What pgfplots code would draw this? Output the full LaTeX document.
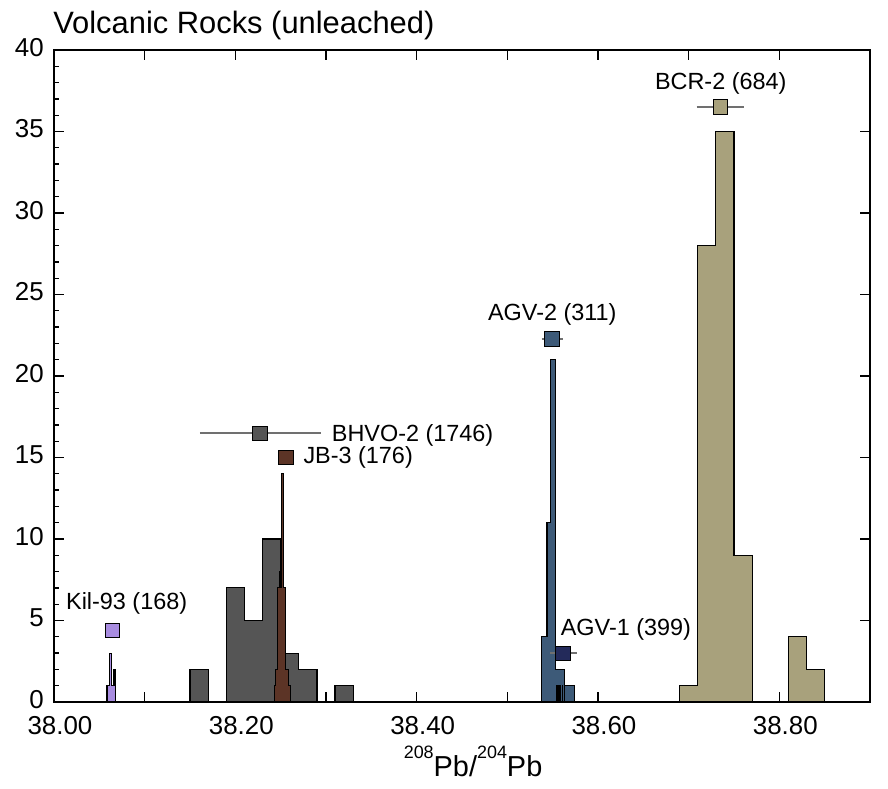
\documentclass[border=0pt]{standalone}
\usepackage{fontspec}
\setmainfont{Liberation Sans}
\usepackage{pgfplots}
\pgfplotsset{compat=1.18}

\definecolor{kil}{RGB}{168,140,224}
\definecolor{bhvo}{RGB}{85,85,85}
\definecolor{jb}{RGB}{92,52,38}
\definecolor{agvtwo}{RGB}{61,90,120}
\definecolor{agvone}{RGB}{35,42,90}
\definecolor{bcr}{RGB}{168,161,124}
\definecolor{errgray}{RGB}{112,112,112}

\newcommand{\lab}{\fontsize{23.5}{28}\selectfont}

\begin{document}
\begin{tikzpicture}
\begin{axis}[
  at={(0,0)}, anchor=south west,
  scale only axis, width=816bp, height=652bp,
  xmin=38, xmax=38.9, ymin=0, ymax=40,
  clip=false,
  axis line style={line width=1.6bp},
  tick style={line width=1.3bp, black},
  major tick length=10bp, minor tick length=5bp,
  tick align=inside,
  tick pos=left,
  xtick={38.0,38.1,38.2,38.3,38.4,38.5,38.6,38.7,38.8,38.9},
  xticklabels={38.00,,38.20,,38.40,,38.60,,38.80,},
  ytick={0,5,10,15,20,25,30,35,40},
  yticklabels={0,5,10,15,20,25,30,35,40},
  minor y tick num=4,
  ticklabel style={font=\fontsize{26}{30}\selectfont, inner sep=1bp},
  xticklabel style={anchor=north, xshift=6bp, yshift=-13bp},
  yticklabel style={anchor=east, xshift=-9bp, yshift=2.5bp},
  every axis plot/.append style={line width=1.2bp},
]
% BHVO-2
\addplot[const plot mark left, fill=bhvo, draw=black] coordinates {
 (38.15,2) (38.17,0) (38.19,7) (38.21,5) (38.23,10) (38.25,3) (38.27,2) (38.29,0) (38.31,1) (38.33,1)
} \closedcycle;
% JB-3
\addplot[const plot mark left, fill=jb, draw=black] coordinates {
 (38.2430,1) (38.2443,2) (38.2465,7) (38.2484,8) (38.2502,7) (38.2512,14) (38.2528,7) (38.2550,2) (38.2586,1) (38.2605,1)
} \closedcycle;
% Kil-93
\addplot[const plot mark left, fill=kil, draw=black] coordinates {
 (38.0585,1) (38.0615,3) (38.0630,1) (38.0662,2) (38.0680,2)
} \closedcycle;
% AGV-2
\addplot[const plot mark left, fill=agvtwo, draw=black] coordinates {
 (38.5375,4) (38.5437,11) (38.5475,21) (38.5530,2) (38.5630,1) (38.5740,1)
} \closedcycle;
% AGV-1
\addplot[const plot mark left, fill=agvone, draw=black, line width=0.7bp] coordinates {
 (38.5545,1) (38.5550,0) (38.5565,1) (38.5570,0) (38.5585,1) (38.5590,0) (38.5605,1) (38.5610,0) (38.5625,1) (38.5632,1)
} \closedcycle;
% BCR-2
\addplot[const plot mark left, fill=bcr, draw=black] coordinates {
 (38.69,1) (38.71,28) (38.73,35) (38.75,9) (38.77,0) (38.81,4) (38.83,2) (38.85,2)
} \closedcycle;

% error bars
\addplot[errgray, line width=2.2bp] coordinates {(38.161,16.48) (38.294,16.48)};
\addplot[errgray, line width=2.2bp] coordinates {(38.5379,22.26) (38.5617,22.26)};
\addplot[errgray, line width=2.2bp] coordinates {(38.547,2.99) (38.5765,2.99)};
\addplot[errgray, line width=2.2bp] coordinates {(38.7088,36.52) (38.7610,36.52)};

% markers
\addplot[only marks, mark=square*, mark size=7.3bp, mark options={fill=kil, draw=black, line width=0.8bp}] coordinates {(38.0642,4.40)};
\addplot[only marks, mark=square*, mark size=7.3bp, mark options={fill=bhvo, draw=black, line width=0.8bp}] coordinates {(38.2274,16.48)};
\addplot[only marks, mark=square*, mark size=7.3bp, mark options={fill=jb, draw=black, line width=0.8bp}] coordinates {(38.2557,15.0)};
\addplot[only marks, mark=square*, mark size=7.3bp, mark options={fill=agvtwo, draw=black, line width=0.8bp}] coordinates {(38.5494,22.26)};
\addplot[only marks, mark=square*, mark size=7.3bp, mark options={fill=agvone, draw=black, line width=0.8bp}] coordinates {(38.5612,2.99)};
\addplot[only marks, mark=square*, mark size=7.3bp, mark options={fill=bcr, draw=black, line width=0.8bp}] coordinates {(38.7351,36.52)};

% labels
\node[anchor=base west, inner sep=0, font=\lab] at (axis cs:38.0132,5.69) {Kil-93 (168)};
\node[anchor=base west, inner sep=0, font=\lab] at (axis cs:38.3063,16.0) {BHVO-2 (1746)};
\node[anchor=base west, inner sep=0, font=\lab] at (axis cs:38.2750,14.64) {JB-3 (176)};
\node[anchor=base, inner sep=0, font=\lab] at (axis cs:38.5496,23.39) {AGV-2 (311)};
\node[anchor=base west, inner sep=0, font=\lab] at (axis cs:38.5588,4.05) {AGV-1 (399)};
\node[anchor=base, inner sep=0, font=\lab] at (axis cs:38.7354,37.6) {BCR-2 (684)};

% title
\node[anchor=base west, inner sep=0, font=\fontsize{31}{36}\selectfont] at (axis cs:37.999,41.04) {Volcanic Rocks (unleached)};
% x label
\node[anchor=base, inner sep=0, font=\fontsize{29}{34}\selectfont] at (axis cs:38.4622,-4.58)
 {\raisebox{0.62em}{\fontsize{18}{20}\selectfont 208}Pb/\raisebox{0.62em}{\fontsize{18}{20}\selectfont 204}Pb};
\end{axis}
\begin{axis}[
  at={(0,0)}, anchor=south west,
  scale only axis, width=816bp, height=652bp,
  xmin=38, xmax=38.9, ymin=0, ymax=40,
  axis line style={draw=none},
  tick style={line width=1.3bp, black},
  major tick length=10bp,
  tick align=inside,
  tick pos=right,
  xtick={38.1,38.2,38.3,38.4,38.5,38.6,38.7,38.8},
  ytick={5,10,15,20,25,30,35},
  xticklabels={}, yticklabels={},
]
\end{axis}
\pgfresetboundingbox
\useasboundingbox (-54bp,-87bp) rectangle (834bp,702bp);
\end{tikzpicture}
\end{document}
